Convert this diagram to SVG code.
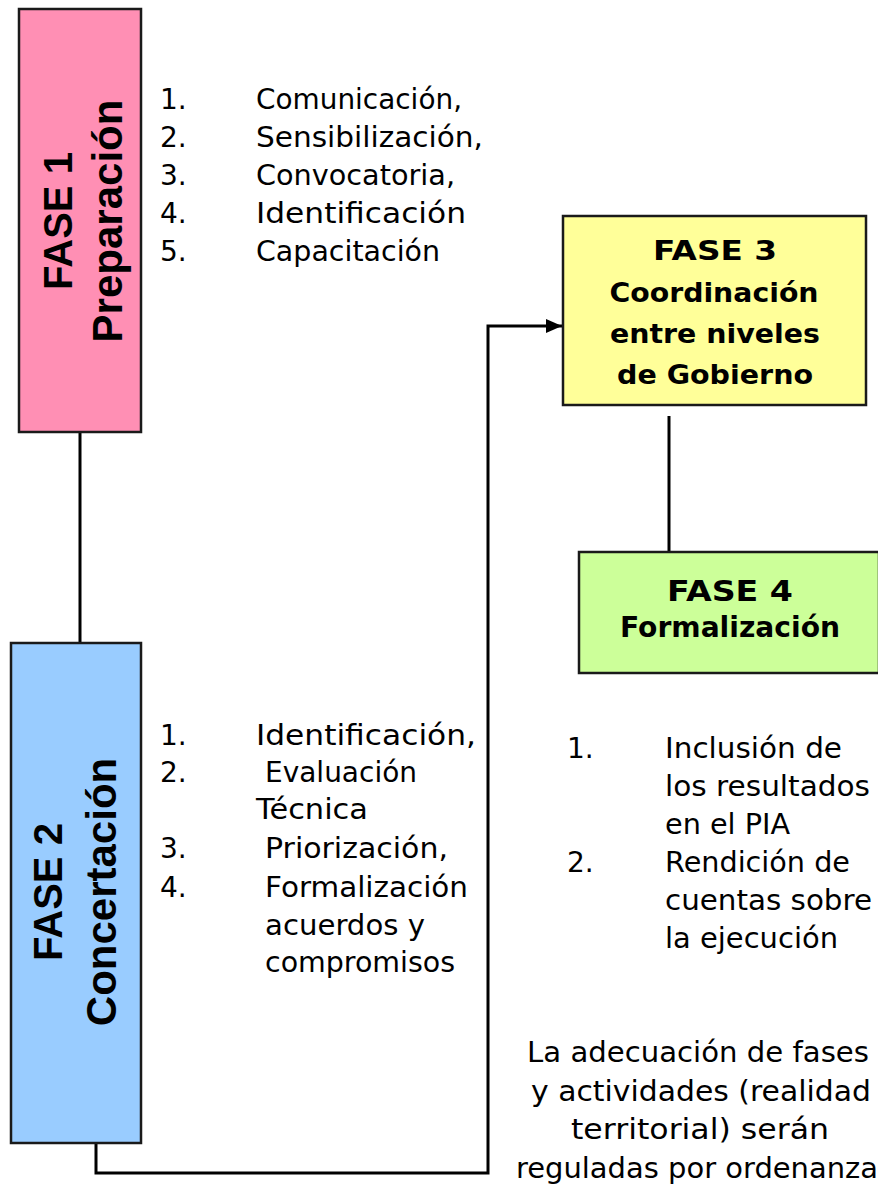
<svg xmlns="http://www.w3.org/2000/svg" width="878" height="1184" viewBox="0 0 878 1184">
<style>
.box{stroke:#1a1a1a;stroke-width:2.5}
.vt{font-family:"Liberation Sans",Arial,sans-serif;font-weight:bold;fill:#000;text-anchor:middle}
.hb{font-family:"DejaVu Sans",sans-serif;font-weight:bold;fill:#000;text-anchor:middle}
.lt{font-family:"DejaVu Sans",sans-serif;font-size:28px;fill:#000}
.ct{font-family:"DejaVu Sans",sans-serif;font-size:28px;fill:#000;text-anchor:middle}
.cn{fill:none;stroke:#000;stroke-width:3}
</style>
<defs>
<marker id="arr" markerWidth="16" markerHeight="14" refX="16" refY="7" orient="auto" markerUnits="userSpaceOnUse">
<path d="M0,0 L16,7 L0,14 Z" fill="#000"/>
</marker>
</defs>
<rect width="878" height="1184" fill="#fff"/>
<g id="connectors">
<line class="cn" x1="80" y1="432" x2="80" y2="643"/>
<polyline class="cn" points="96,1143 96,1173 488,1173 488,326 562,326" marker-end="url(#arr)"/>
<line class="cn" x1="669" y1="416" x2="669" y2="552"/>
</g>
<g id="fase1">
<rect class="box" x="19" y="9" width="122" height="423" fill="#ff8fb4"/>
<text class="vt" font-size="40" transform="translate(72,221) rotate(-90)">FASE 1</text>
<text class="vt" font-size="42" transform="translate(122,221) rotate(-90)">Preparación</text>
</g>
<g id="fase2">
<rect class="box" x="11" y="643" width="130" height="500" fill="#99ccff"/>
<text class="vt" font-size="40" transform="translate(62,892) rotate(-90)">FASE 2</text>
<text class="vt" font-size="42" transform="translate(116,892) rotate(-90)">Concertación</text>
</g>
<g id="fase3">
<rect class="box" x="563" y="216" width="303" height="189" fill="#ffff99"/>
<text class="hb" font-size="27" x="715" y="260" textLength="124" lengthAdjust="spacingAndGlyphs">FASE 3</text>
<text class="hb" font-size="27" x="714" y="302" textLength="209" lengthAdjust="spacingAndGlyphs">Coordinación</text>
<text class="hb" font-size="27" x="715" y="343" textLength="210" lengthAdjust="spacingAndGlyphs">entre niveles</text>
<text class="hb" font-size="27" x="715" y="384" textLength="196" lengthAdjust="spacingAndGlyphs">de Gobierno</text>
</g>
<g id="fase4">
<rect class="box" x="579" y="552" width="300" height="121" fill="#ccff99"/>
<text class="hb" font-size="29" x="730" y="601" textLength="126" lengthAdjust="spacingAndGlyphs">FASE 4</text>
<text class="hb" font-size="28" x="730" y="637" textLength="220" lengthAdjust="spacingAndGlyphs">Formalización</text>
</g>
<g id="list1">
<text class="lt" x="160" y="109">1.</text><text class="lt" x="256" y="109" textLength="206" lengthAdjust="spacingAndGlyphs">Comunicación,</text>
<text class="lt" x="160" y="147">2.</text><text class="lt" x="256" y="147" textLength="227" lengthAdjust="spacingAndGlyphs">Sensibilización,</text>
<text class="lt" x="160" y="185">3.</text><text class="lt" x="256" y="185" textLength="199" lengthAdjust="spacingAndGlyphs">Convocatoria,</text>
<text class="lt" x="160" y="223">4.</text><text class="lt" x="256" y="223" textLength="210" lengthAdjust="spacingAndGlyphs">Identificación</text>
<text class="lt" x="160" y="261">5.</text><text class="lt" x="256" y="261" textLength="184" lengthAdjust="spacingAndGlyphs">Capacitación</text>
</g>
<g id="list2">
<text class="lt" x="160" y="745">1.</text><text class="lt" x="256" y="745" textLength="220" lengthAdjust="spacingAndGlyphs">Identificación,</text>
<text class="lt" x="160" y="782">2.</text><text class="lt" x="265" y="782" textLength="152" lengthAdjust="spacingAndGlyphs">Evaluación</text>
<text class="lt" x="256" y="819" textLength="112" lengthAdjust="spacingAndGlyphs">Técnica</text>
<text class="lt" x="160" y="858">3.</text><text class="lt" x="265" y="858" textLength="183" lengthAdjust="spacingAndGlyphs">Priorización,</text>
<text class="lt" x="160" y="897">4.</text><text class="lt" x="265" y="897" textLength="203" lengthAdjust="spacingAndGlyphs">Formalización</text>
<text class="lt" x="265" y="935" textLength="160" lengthAdjust="spacingAndGlyphs">acuerdos y</text>
<text class="lt" x="265" y="972" textLength="190" lengthAdjust="spacingAndGlyphs">compromisos</text>
</g>
<g id="list4">
<text class="lt" x="567" y="758">1.</text><text class="lt" x="665" y="758" textLength="177" lengthAdjust="spacingAndGlyphs">Inclusión de</text>
<text class="lt" x="665" y="796" textLength="205" lengthAdjust="spacingAndGlyphs">los resultados</text>
<text class="lt" x="665" y="834" textLength="125" lengthAdjust="spacingAndGlyphs">en el PIA</text>
<text class="lt" x="567" y="872">2.</text><text class="lt" x="665" y="872" textLength="185" lengthAdjust="spacingAndGlyphs">Rendición de</text>
<text class="lt" x="665" y="910" textLength="207" lengthAdjust="spacingAndGlyphs">cuentas sobre</text>
<text class="lt" x="665" y="948" textLength="173" lengthAdjust="spacingAndGlyphs">la ejecución</text>
</g>
<g id="note">
<text class="ct" x="698" y="1062" textLength="342" lengthAdjust="spacingAndGlyphs">La adecuación de fases</text>
<text class="ct" x="701" y="1101" textLength="340" lengthAdjust="spacingAndGlyphs">y actividades (realidad</text>
<text class="ct" x="700" y="1139" textLength="258" lengthAdjust="spacingAndGlyphs">territorial) serán</text>
<text class="ct" x="697" y="1178" textLength="362" lengthAdjust="spacingAndGlyphs">reguladas por ordenanza</text>
</g>
</svg>
